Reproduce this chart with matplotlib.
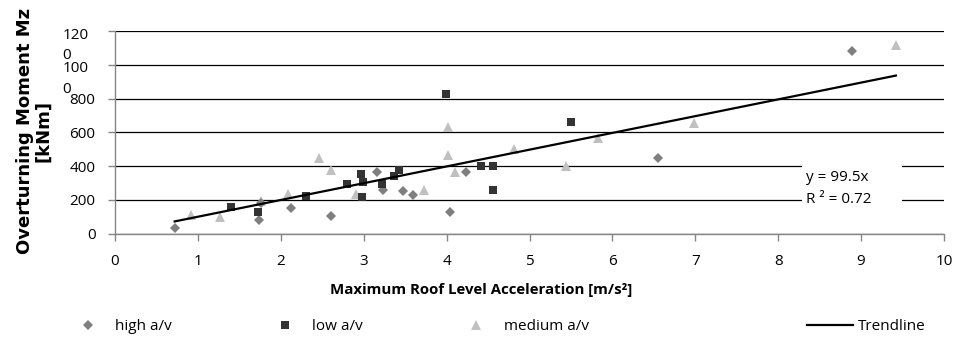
import numpy as np
import matplotlib.pyplot as plt
import matplotlib.transforms as mtransforms
from matplotlib.patches import Rectangle

# data
high_x = [0.72, 1.74, 1.76, 2.12, 2.60, 3.16, 3.23, 3.47, 3.59, 4.04, 4.24, 6.55, 8.89]
high_y = [33, 79, 182, 152, 103, 366, 257, 251, 227, 130, 366, 451, 1083]

low_x = [1.40, 1.72, 2.30, 2.80, 2.97, 2.975, 2.99, 3.22, 3.36, 3.43, 3.99, 4.42, 4.56, 4.56, 5.50]
low_y = [160, 125, 222, 295, 352, 217, 303, 291, 340, 374, 826, 400, 400, 257, 659]

med_x = [0.92, 1.27, 1.76, 2.09, 2.46, 2.60, 2.91, 3.73, 4.02, 4.02, 4.10, 4.81, 5.44, 5.83, 6.98, 9.42]
med_y = [110, 99, 190, 233, 451, 376, 236, 259, 630, 463, 366, 500, 402, 568, 653, 1118]

trend_slope = 99.5
trend_r2 = 0.72

x_ticks = list(range(0, 11))
y_ticks = [0, 200, 400, 600, 800, 1000, 1200]
y_tick_labels = ['0', '200', '400', '600', '800', '100\n0', '120\n0']

plt.rcParams['font.family'] = ['Open Sans', 'DejaVu Sans']

fig = plt.figure(figsize=(9.59, 3.39), dpi=100)
ax = fig.add_axes([115 / 959, (339 - 233.5) / 339, (944 - 115) / 959, (233.5 - 31.3) / 339])

ax.set_xlim(0, 10)
ax.set_ylim(0, 1200)
ax.set_axisbelow(True)
ax.yaxis.grid(True, color='black', linewidth=0.9)
ax.xaxis.grid(False)

for side in ['top', 'right']:
    ax.spines[side].set_visible(False)
for side in ['left', 'bottom']:
    ax.spines[side].set_color('#868686')
    ax.spines[side].set_linewidth(1.0)

ax.set_xticks(x_ticks)
ax.set_xticklabels([str(v) for v in x_ticks])
ax.set_yticks(y_ticks)
ax.set_yticklabels(y_tick_labels)
ax.tick_params(axis='both', colors='#868686', labelcolor='black', labelsize=11,
               length=5, width=1, direction='out')
ax.tick_params(axis='x', pad=10)
ax.tick_params(axis='y', pad=9)

# wrapped labels like the original (line breaks inside 1000 and 1200)
for lab in ax.get_yticklabels():
    if '\n' in lab.get_text():
        lab.set_multialignment('left')
        lab.set_linespacing(1.5)
        lab.set_transform(lab.get_transform() +
                          mtransforms.ScaledTranslation(-0.07, -0.095, fig.dpi_scale_trans))

ax.plot(high_x, high_y, linestyle='none', marker='D', markersize=5,
        color='#7f7f7f', markeredgewidth=0, label='high a/v', zorder=3)
ax.plot(low_x, low_y, linestyle='none', marker='s', markersize=5.5,
        color='#333333', markeredgewidth=0, label='low a/v', zorder=3)
ax.plot(med_x, med_y, linestyle='none', marker='^', markersize=7,
        color='#c0c0c0', markeredgewidth=0, label='medium a/v', zorder=2.9)

all_x = high_x + low_x + med_x
tx = np.array([min(all_x), max(all_x)])
trend, = ax.plot(tx, trend_slope * tx, color='black', linewidth=1.6, label='Trendline', zorder=4)

# equation label box (white background hides grid lines)
ax.add_patch(Rectangle((8.29, 180), 1.2, 240, facecolor='white', edgecolor='none', zorder=1))
ax.text(8.34, 330, 'y = 99.5x', fontsize=11, va='center', ha='left', zorder=5)
ax.text(8.34, 200, 'R ² = %.2f' % trend_r2, fontsize=11, va='center', ha='left', zorder=5)

ax.set_xlabel('Maximum Roof Level Acceleration [m/s²]', fontsize=10.8, fontweight='bold')
ax.xaxis.set_label_coords((481 - 115) / 829, -(290 - 233.5) / 202.2)
ax.xaxis.label.set_va('center')

ax.set_ylabel('Overturning Moment Mz\n[kNm]', fontsize=13, fontweight='heavy',
              family='DejaVu Sans', linespacing=1.0)
ax.yaxis.set_label_coords(-(115 - 34) / 829, (233.5 - 131) / 202.2)
ax.yaxis.label.set_va('center')

handles = ax.get_legend_handles_labels()[0]
leg1 = fig.legend(handles[:3], ['high a/v', 'low a/v', 'medium a/v'], loc='center left',
                  bbox_to_anchor=(80 / 959, 12 / 339), ncol=3, frameon=False, fontsize=11,
                  handlelength=1.0, handletextpad=1.3, columnspacing=6.9,
                  borderpad=0, borderaxespad=0)
leg2 = fig.legend([trend], ['Trendline'], loc='center left',
                  bbox_to_anchor=(807 / 959, 12 / 339), frameon=False, fontsize=11,
                  handlelength=3.0, handletextpad=0.3, borderpad=0, borderaxespad=0)

fig.savefig('out.png', dpi=100)
